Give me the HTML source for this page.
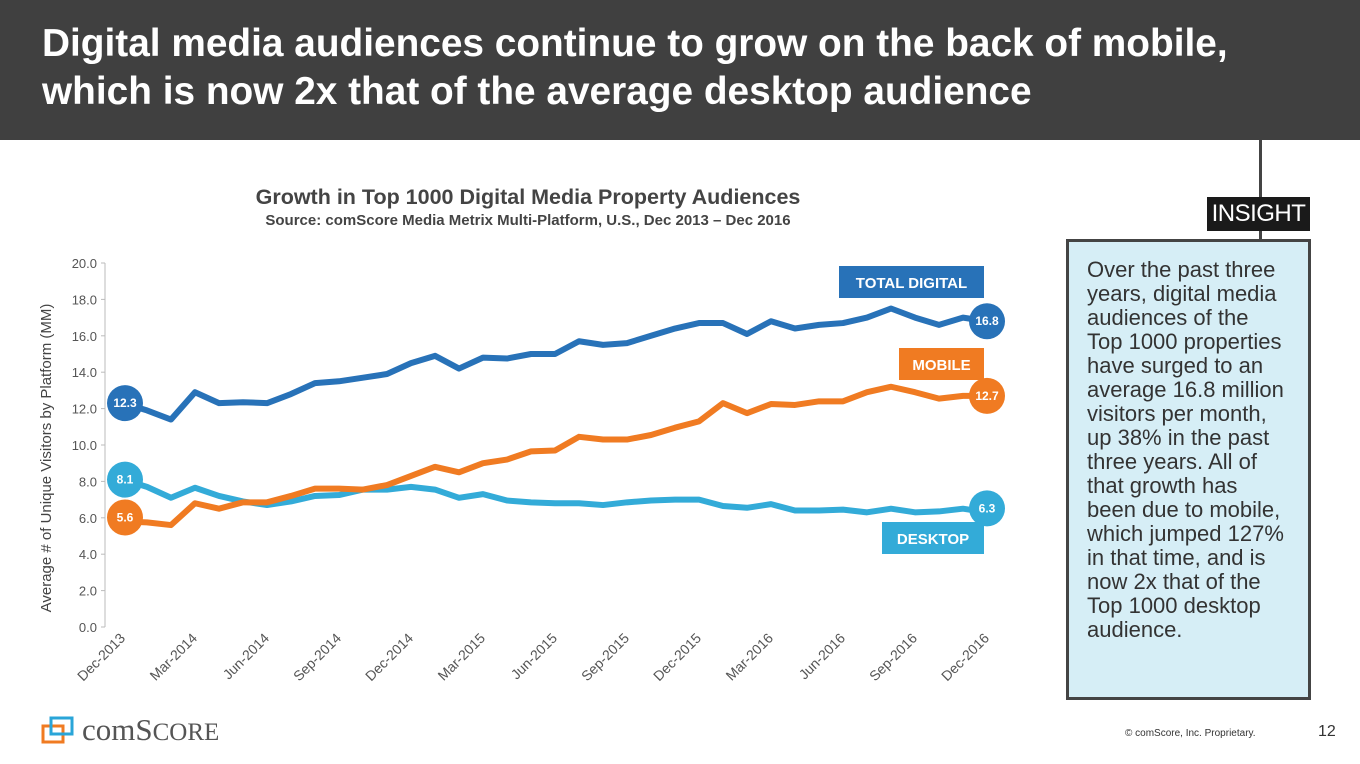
<!DOCTYPE html>
<html><head><meta charset="utf-8"><style>
body{margin:0;width:1360px;height:764px;overflow:hidden;background:#fff;font-family:"Liberation Sans",Arial,sans-serif;position:relative}
.hdr{position:absolute;left:0;top:0;width:1360px;height:140px;background:#404040}
.hdr h1{margin:0;position:absolute;left:42px;top:20px;color:#fff;font-size:38.8px;line-height:48px;font-weight:bold;white-space:nowrap}
</style></head><body>
<div class="hdr"><h1>Digital media audiences continue to grow on the back of mobile,<br>which is now 2x that of the average desktop audience</h1></div>
<div style="position:absolute;left:1259px;top:140px;width:3px;height:100px;background:#444"></div>
<div style="position:absolute;left:1207px;top:197px;width:103px;height:34px;background:#1a1a1a;color:#fff;font-size:24px;line-height:34px;text-align:center;letter-spacing:-0.5px">INSIGHT</div>
<div style="position:absolute;left:1066px;top:239px;width:239px;height:455px;background:#d6eef6;border:3px solid #444"></div>
<div style="position:absolute;left:1087px;top:258px;width:220px;font-size:22px;line-height:24px;color:#333;white-space:nowrap">Over the past three<br>years, digital media<br>audiences of the<br>Top 1000 properties<br>have surged to an<br>average 16.8 million<br>visitors per month,<br>up 38% in the past<br>three years. All of<br>that growth has<br>been due to mobile,<br>which jumped 127%<br>in that time, and is<br>now 2x that of the<br>Top 1000 desktop<br>audience.</div>
<svg id="chart" width="1060" height="700" style="position:absolute;left:0;top:0" font-family="Liberation Sans, Arial, sans-serif"></svg>
<div style="position:absolute;left:40px;top:712px;width:200px;height:34px">
<svg width="40" height="32" style="position:absolute;left:0;top:2px"><rect x="3" y="12" width="20" height="16" fill="none" stroke="#f07b22" stroke-width="3"/><rect x="11" y="4" width="21" height="16" fill="none" stroke="#2aa5d8" stroke-width="3"/></svg>
<span style="position:absolute;left:42px;top:0px;font-family:'Liberation Serif',serif;font-size:31px;color:#555">comS<span style="font-size:25px">CORE</span></span></div>
<div style="position:absolute;left:1125px;top:728px;font-size:10px;color:#333">© comScore, Inc. Proprietary.</div>
<div style="position:absolute;left:1318px;top:723px;font-size:16px;color:#333">12</div>
<script>
const categories=["Dec-2013","Jan-2014","Feb-2014","Mar-2014","Apr-2014","May-2014","Jun-2014","Jul-2014","Aug-2014","Sep-2014","Oct-2014","Nov-2014","Dec-2014","Jan-2015","Feb-2015","Mar-2015","Apr-2015","May-2015","Jun-2015","Jul-2015","Aug-2015","Sep-2015","Oct-2015","Nov-2015","Dec-2015","Jan-2016","Feb-2016","Mar-2016","Apr-2016","May-2016","Jun-2016","Jul-2016","Aug-2016","Sep-2016","Oct-2016","Nov-2016","Dec-2016"];
const totalDigital=[12.3,11.9,11.4,12.9,12.3,12.35,12.3,12.8,13.4,13.5,13.7,13.9,14.5,14.9,14.2,14.8,14.75,15.0,15.0,15.7,15.5,15.6,16.0,16.4,16.7,16.7,16.1,16.8,16.4,16.6,16.7,17.0,17.5,17.0,16.6,17.0,16.8];
const mobile=[5.8,5.75,5.6,6.8,6.5,6.85,6.85,7.2,7.6,7.6,7.55,7.8,8.3,8.8,8.5,9.0,9.2,9.65,9.7,10.45,10.3,10.3,10.55,10.95,11.3,12.3,11.75,12.25,12.2,12.4,12.4,12.9,13.2,12.9,12.55,12.7,12.7];
const desktop=[8.1,7.7,7.1,7.65,7.2,6.9,6.7,6.9,7.2,7.25,7.55,7.55,7.7,7.55,7.1,7.3,6.95,6.85,6.8,6.8,6.7,6.85,6.95,7.0,7.0,6.65,6.55,6.75,6.4,6.4,6.45,6.3,6.5,6.3,6.35,6.5,6.3];
const yTicks=[0,2,4,6,8,10,12,14,16,18,20];
const startLabels=["12.3","8.1","5.6"];
const endLabels=["16.8","12.7","6.3"];
const NS="http://www.w3.org/2000/svg",svg=document.getElementById('chart');
const x=i=>123+i*(864/(categories.length-1)), y=v=>627-v*18.2;
function mk(t,a,txt){const e=document.createElementNS(NS,t);for(const k in a)e.setAttribute(k,a[k]);if(txt!=null)e.textContent=txt;svg.appendChild(e);return e;}
let e;
e=mk('text',{x:528,y:204,'text-anchor':'middle','font-size':21.5,'font-weight':'bold',fill:'#444'},'Growth in Top 1000 Digital Media Property Audiences');


e=mk('text',{x:528,y:225,'text-anchor':'middle','font-size':15,'font-weight':'bold',fill:'#444'},'Source: comScore Media Metrix Multi-Platform, U.S., Dec 2013 – Dec 2016');


e=mk('line',{x1:105,y1:y(0),x2:105,y2:y(20),stroke:'#bbb','stroke-width':1});


yTicks.forEach(t=>{
 e=mk('line',{x1:101,y1:y(t),x2:105,y2:y(t),stroke:'#bbb'});
 
 
 e=mk('text',{x:97,y:y(t)+5,'text-anchor':'end','font-size':13,fill:'#555'},t.toFixed(1));
 
 
});
e=mk('text',{transform:'translate(51,458) rotate(-90)','text-anchor':'middle','font-size':15,fill:'#444'},'Average # of Unique Visitors by Platform (MM)');


categories.forEach((c,i)=>{if(i%3)return;
 e=mk('text',{transform:`translate(${x(i)+3},${y(0)+12}) rotate(-45)`,'text-anchor':'end','font-size':14,fill:'#555'},c);
 
 
});
const series=[[totalDigital,'#2872b8','total-digital-line'],[desktop,'#33abd8','desktop-line'],[mobile,'#f07b22','mobile-line']];
series.forEach(s=>{
 e=mk('polyline',{points:s[0].map((v,i)=>x(i)+','+y(v)).join(' '),fill:'none',stroke:s[1],'stroke-width':6,'stroke-linejoin':'round'});
 
 
});
const ser=[[totalDigital,'#2872b8'],[mobile,'#f07b22'],[desktop,'#33abd8']];
const startSer=[[totalDigital,'#2872b8'],[desktop,'#33abd8'],[mobile,'#f07b22']];
startSer.forEach((s,k)=>{
 e=mk('circle',{cx:x(0)+2,cy:y(s[0][0])+(k==2?-4:0),r:18,fill:s[1]});
 
 
 e=mk('text',{x:x(0)+2,y:y(s[0][0])+(k==2?0:4),'text-anchor':'middle','font-size':12,'font-weight':'bold',fill:'#fff'},startLabels[k]);
 
 
});
const n=categories.length-1;
ser.forEach((s,k)=>{
 e=mk('circle',{cx:x(n),cy:y(s[0][n])+(k==2?-4:0),r:18,fill:s[1]});
 
 
 e=mk('text',{x:x(n),y:y(s[0][n])+(k==2?0:4),'text-anchor':'middle','font-size':12,'font-weight':'bold',fill:'#fff'},endLabels[k]);
 
 
});
const legends=[['TOTAL DIGITAL','#2872b8',839,266,145],['MOBILE','#f07b22',899,348,85],['DESKTOP','#33abd8',882,522,102]];
legends.forEach(l=>{
 e=mk('rect',{x:l[2],y:l[3],width:l[4],height:32,fill:l[1]});
 
 
 e=mk('text',{x:l[2]+l[4]/2,y:l[3]+22,'text-anchor':'middle','font-size':15,'font-weight':'bold',fill:'#fff'},l[0]);
 
 
});
</script>
</body></html>
